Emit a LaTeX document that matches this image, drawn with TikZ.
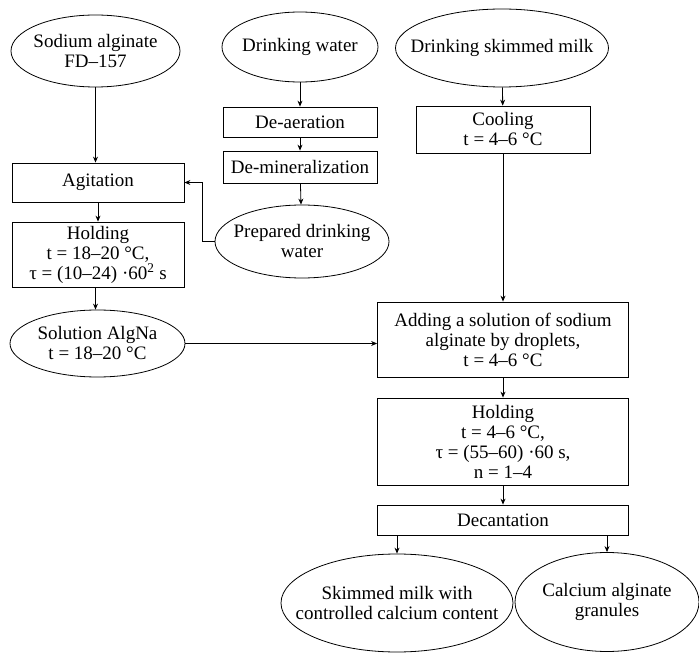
\documentclass[tikz,border=0pt]{standalone}
\usepackage{fontspec}
\setmainfont{Liberation Serif}
\usepackage{tikz}
\usetikzlibrary{shapes.geometric,arrows.meta}

\begin{document}
\begin{tikzpicture}[x=1pt,y=-1pt,line width=0.8pt,
	every node/.style={font=\fontsize{19}{20}\selectfont, align=center, inner sep=0pt},
	box/.style={draw, rectangle},
	oval/.style={draw, ellipse, inner xsep=-70pt, inner ysep=-30pt},
	arr/.style={-{Stealth[length=6pt,width=5pt]}}]
	\useasboundingbox (0,0) rectangle (699,655);
	\node[oval, minimum width=169, minimum height=72] (alg) at (95.5,51) {Sodium alginate\\FD–157};
	\node[oval, minimum width=156, minimum height=70] (water) at (300,47) {Drinking water};
	\node[oval, minimum width=213, minimum height=78] (milk) at (502,48) {Drinking skimmed milk};
	\node[box, minimum width=154, minimum height=30] (deaer) at (300,122) {De-aeration};
	\node[box, minimum width=154, minimum height=32] (demin) at (300,167) {De-mineralization};
	\node[oval, minimum width=174, minimum height=73] (prep) at (302,241.5) {Prepared drinking\\water};
	\node[box, minimum width=172, minimum height=39] (agit) at (98,182.5) {Agitation};
	\node[box, minimum width=172, minimum height=65] (hold) at (98,254.5) {Holding\\t = 18–20 °C,\\τ = (10–24) ·60\textsuperscript{2} s};
	\node[oval, minimum width=175, minimum height=67] (sol) at (97.5,343.5) {Solution AlgNa\\t = 18–20 °C};
	\node[box, minimum width=174, minimum height=47] (cool) at (503,129.5) {Cooling\\t = 4–6 °C};
	\node[box, minimum width=251, minimum height=75] (add) at (503,339.5) {Adding a solution of sodium\\alginate by droplets,\\t = 4–6 °C};
	\node[box, minimum width=251, minimum height=87] (hold2) at (503,441.5) {Holding\\t = 4–6 °C,\\τ = (55–60) ·60 s,\\n = 1–4};
	\node[box, minimum width=251, minimum height=30] (dec) at (503,520) {Decantation};
	\node[oval, minimum width=232, minimum height=98] (skim) at (397,603) {Skimmed milk with\\controlled calcium content};
	\node[oval, minimum width=184, minimum height=99] (gran) at (607,602) {Calcium alginate\\granules};
	\draw[arr] (alg.south) -- (alg.south |- agit.north);
	\draw[arr] (agit) -- (hold);
	\draw[arr] (hold.south -| alg.south) -- (sol.north -| alg.south);
	\draw[arr] (water) -- (deaer);
	\draw[arr] (deaer) -- (demin);
	\draw[arr] (demin) -- (prep);
	\draw[arr] (prep.west) -- ++(-12,0) |- (agit.east);
	\draw[arr] (milk) -- (cool);
	\draw[arr] (cool) -- (add);
	\draw[arr] (sol.east) -- (sol.east -| add.west);
	\draw[arr] (add) -- (hold2);
	\draw[arr] (hold2) -- (dec);
	\draw[arr] (dec.south -| skim.north) -- (skim.north);
	\draw[arr] (dec.south -| gran.north) -- (gran.north);
\end{tikzpicture}
\end{document}
